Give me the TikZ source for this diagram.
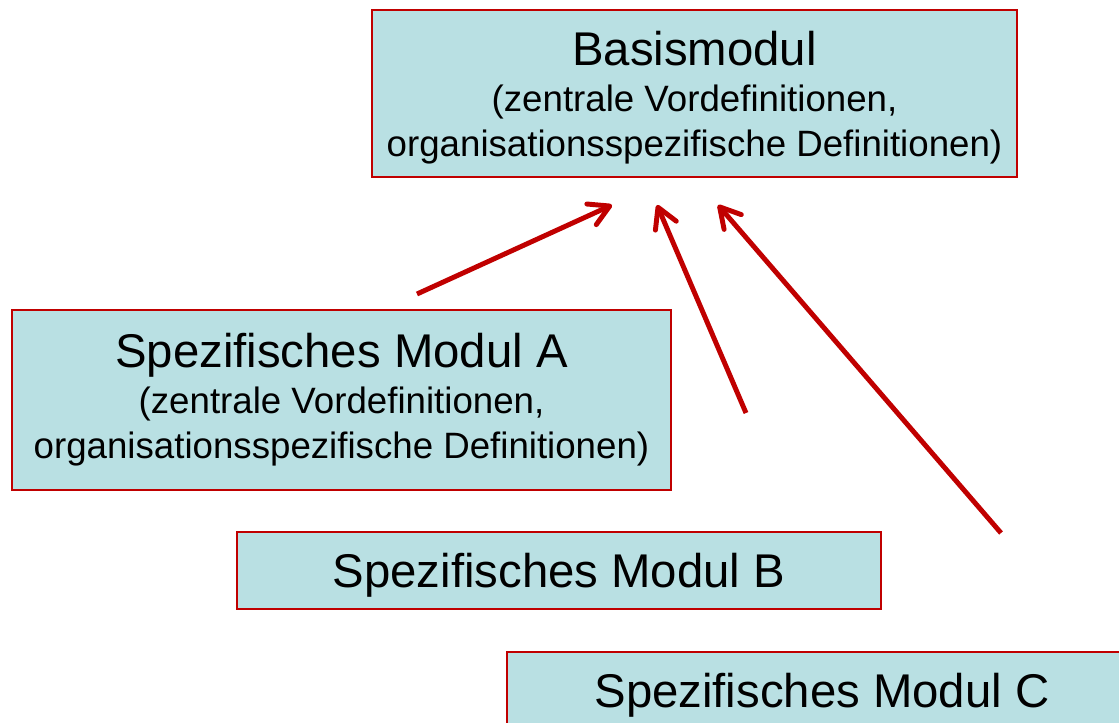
\documentclass[tikz,border=0pt]{standalone}
\usepackage{fontspec}
\setmainfont{Liberation Sans}
\usetikzlibrary{arrows.meta}
\definecolor{modulfill}{RGB}{185,224,227}
\definecolor{modulrot}{RGB}{192,0,0}
\newcommand{\hauptschrift}{\fontsize{35.5}{40}\selectfont}
\newcommand{\unterschrift}{\fontsize{27.5}{33.75}\selectfont}
\tikzset{
	modul/.style={draw=modulrot, line width=1.3pt, fill=modulfill, inner sep=0pt, align=center, font=\unterschrift},
	pfeil/.style={draw=modulrot, line width=3.7pt, -{Straight Barb[length=15pt,width=17pt,round]}}
}

\begin{document}
\begin{tikzpicture}[x=0.75pt, y=-0.75pt]
			%%%%% START %%%%%
			\useasboundingbox (0,0) rectangle (1119,723);
			
			\node[modul, minimum width=483.75pt, minimum height=125.25pt, text depth=0pt] (basis) at (694.5, 93.5) {{\hauptschrift Basismodul}\\[0.75pt] (zentrale Vordefinitionen,\\ organisationsspezifische Definitionen)};
			
			\node[modul, minimum width=494.25pt, minimum height=135pt] (modA) at (341.5, 400) {{\hauptschrift Spezifisches Modul A}\\[0.75pt] (zentrale Vordefinitionen,\\ organisationsspezifische Definitionen)};
			
			\node[modul, minimum width=483pt, minimum height=57.75pt, text depth=0pt] (modB) at (559, 570.5) {\hauptschrift Spezifisches Modul B};
			
			\node[modul, minimum width=472.5pt, minimum height=57pt, text depth=0pt] (modC) at (822, 690) {\hauptschrift Spezifisches Modul C};
			
			\coordinate (vonA) at (417, 294);
			\coordinate (nachA) at (612, 205);
			\coordinate (vonB) at (746, 413);
			\coordinate (nachB) at (657, 205);
			\coordinate (vonC) at (1001, 533);
			\coordinate (nachC) at (718, 205);
			
			\draw[pfeil] (vonA) -- (nachA);
			\draw[pfeil] (vonB) -- (nachB);
			\draw[pfeil] (vonC) -- (nachC);
			
			%%%%% END %%%%%
\end{tikzpicture}
\end{document}
